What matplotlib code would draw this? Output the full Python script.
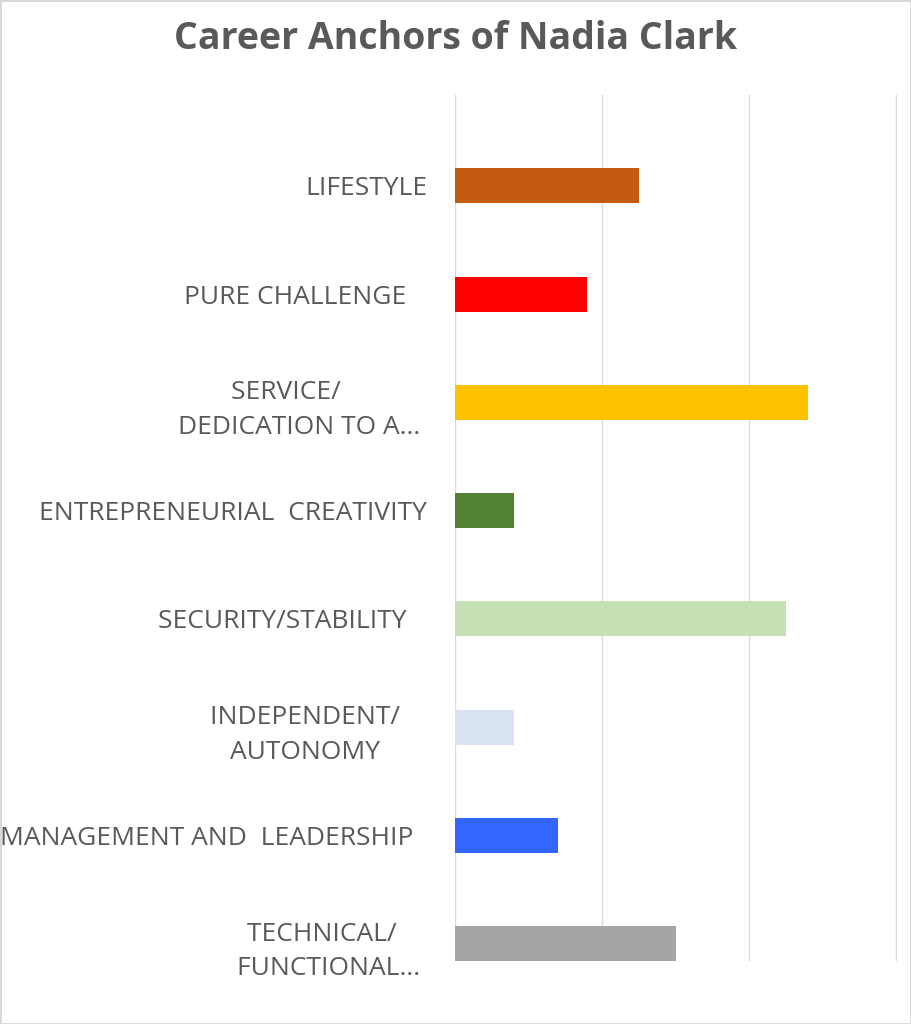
import numpy as np
import matplotlib.pyplot as plt

# Data (bottom to top)
labels = ['TECHNICAL/   \nFUNCTIONAL... ',
          'MANAGEMENT AND  LEADERSHIP  ',
          'INDEPENDENT/    \nAUTONOMY    ',
          'SECURITY/STABILITY   ',
          'ENTREPRENEURIAL  CREATIVITY',
          'SERVICE/     \nDEDICATION TO A... ',
          'PURE CHALLENGE   ',
          'LIFESTYLE']
values = [7.5, 3.5, 2, 11.25, 2, 12, 4.5, 6.25]
colors = ['#A5A5A5', '#3366FF', '#DAE3F3', '#C5E0B4',
          '#548235', '#FFC000', '#FF0000', '#C55A11']

plt.rcParams['font.family'] = ['Open Sans', 'DejaVu Sans']
text_color = '#595959'

fig = plt.figure(figsize=(9.11, 10.24), dpi=100)
fig.patch.set_edgecolor('#D9D9D9')
fig.patch.set_linewidth(2)
ax = fig.add_axes([0.4995, 0.0615, 0.485, 0.8457])

y = np.arange(len(labels))
bar_h = 0.323
ax.barh(y, values, height=bar_h, color=colors, zorder=3)

ax.set_xlim(0, 15.03)
ax.set_ylim(-bar_h / 2, 8 - bar_h / 2)
ax.set_xticks([0, 5, 10, 15])
ax.xaxis.grid(True, color='#D9D9D9', linewidth=1, zorder=0)
ax.tick_params(axis='x', length=0, labelbottom=False)
ax.tick_params(axis='y', length=0, pad=20, labelsize=19, labelcolor=text_color)
ax.set_yticks(y)
ax.set_yticklabels(labels)
for t in ax.get_yticklabels():
    t.set_multialignment('center')
    t.set_linespacing(1.5)
for s in ax.spines.values():
    s.set_visible(False)

fig.text(0.5, 0.962, 'Career Anchors of Nadia Clark', ha='center', va='center',
         fontsize=27, fontweight='bold', color=text_color)

fig.savefig('out.png', dpi=100)
